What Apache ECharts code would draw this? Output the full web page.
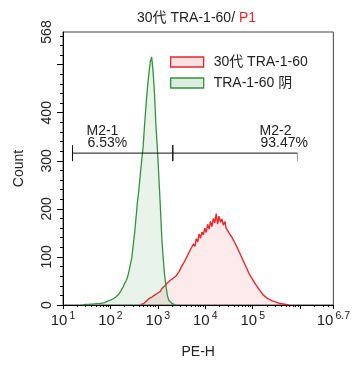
<!DOCTYPE html>
<html><head><meta charset="utf-8">
<script src="https://cdn.jsdelivr.net/npm/echarts@6/dist/echarts.min.js"></script>
<style>html,body{margin:0;padding:0;background:#fff}#c{width:353px;height:367px}</style>
</head><body><div id="c"></div>
<script>
const FONT = '"Liberation Sans", Arial, "Noto Sans CJK SC", sans-serif';

// ---- data ----
const titleMain = '30代 TRA-1-60/ ';
const titleGate = 'P1';
const seriesNames = ['30代 TRA-1-60', 'TRA-1-60 阴'];
const xAxisName = 'PE-H';
const yAxisName = 'Count';
const xMinExp = 1, xMaxExp = 6.7;          // axis in log10 units
const xHiddenLabels = [6];
const yMax = 568;
const yLabelValues = [0, 100, 200, 300, 400, 568];
const yMajorTicks = [0, 100, 200, 300, 400, 500];

const binWidth = 0.03;                      // log10 bin width
const redStart = 2.64;
const redCounts = [1,2,3,5,8,10,14,12,17,16,21,19,25,27,29,35,33,40,41,47,45,52,50,56,54,61,63,70,74,82,
  79,92,96,104,100,116,112,127,122,138,131,148,139,152,146,160,151,168,158,174,163,180,171,190,168,185,172,179,166,174,
  160,163,150,154,141,143,130,131,118,121,105,107,92,94,79,80,66,63,56,52,46,42,37,33,29,27,21,20,16,15,
  12,13,9,10,7,6,5,4,3,3,2,1,1,0,0];
const greenStart = 1.40;
const greenCounts = [0,1,1,2,1,2,2,3,2,3,3,4,3,5,4,6,5,7,8,9,10,12,13,16,17,20,23,28,33,38,
  45,50,58,70,84,98,124,150,182,215,240,272,302,330,375,415,452,480,506,516,485,438,372,325,268,210,145,100,64,40,
  20,10,6,4,2,1,0];

const gateNames = ['M2-1', 'M2-2'];
const gatePercents = ['6.53%', '93.47%'];
const gateFrom = [1.20, 3.315];
const gateTo = [3.315, 5.945];
const gateLevel = 316;

// ---- build ----
const toPairs = (start, counts) => counts.map((c, i) => [+(start + i * binWidth).toFixed(3), c]);
const xMinor = [];
for (let d = 1; d <= 6; d++) for (let k = 2; k <= 9; k++) { const v = d + Math.log10(k); if (v < xMaxExp) xMinor.push(v); }
const yMinor = [];
for (let v = 20; v < yMax; v += 20) if (v % 100 !== 0) yMinor.push(v);

const RED = '#e8262b', GREEN = '#34923f', INK = '#222';

const chart = echarts.init(document.getElementById('c'), null, {renderer: 'canvas'});
chart.setOption({
  animation: false,
  backgroundColor: '#fff',
  textStyle: {fontFamily: FONT},
  title: {
    text: '{a|' + titleMain + '}{b|' + titleGate + '}',
    left: 132, top: 6,
    textStyle: {fontWeight: 'normal', rich: {
      a: {fontSize: 14, color: INK, fontFamily: FONT, fontWeight: 'normal'},
      b: {fontSize: 14, color: RED, fontFamily: FONT, fontWeight: 'normal'}
    }}
  },
  legend: {
    orient: 'vertical', left: 165, top: 49,
    itemWidth: 33, itemHeight: 10, itemGap: 5, selectedMode: false,
    textStyle: {fontSize: 14, color: INK, fontFamily: FONT, lineHeight: 16, padding: [0, 0, 0, 5]},
    data: [
      {name: seriesNames[0], icon: 'rect', itemStyle: {color: '#fbe0e1', borderColor: RED, borderWidth: 1.3}},
      {name: seriesNames[1], icon: 'rect', itemStyle: {color: '#dcede0', borderColor: GREEN, borderWidth: 1.3}}
    ]
  },
  grid: {left: 63, right: 16, top: 32, bottom: 62, show: true, borderColor: '#444', borderWidth: 1, containLabel: false},
  xAxis: [
    {
      type: 'value', min: xMinExp, max: xMaxExp, interval: 1, position: 'bottom',
      name: xAxisName, nameLocation: 'middle', nameGap: 40,
      nameTextStyle: {fontSize: 14, color: INK, fontFamily: FONT},
      axisLine: {show: true, lineStyle: {color: '#000', width: 1}},
      axisTick: {show: true, length: 4, lineStyle: {color: '#000'}},
      axisLabel: {
        margin: 6, color: INK,
        formatter: v => xHiddenLabels.includes(v) ? '' : '{b|10}{s|' + v + '}',
        rich: {
          b: {fontSize: 15, fontFamily: FONT, color: INK},
          s: {fontSize: 10.5, fontFamily: FONT, color: INK, padding: [0, 0, 9, 2]}
        }
      },
      splitLine: {show: false}
    },
    {
      type: 'value', min: xMinExp, max: xMaxExp, position: 'bottom',
      axisLine: {show: false},
      axisTick: {show: true, length: 2, customValues: xMinor, lineStyle: {color: '#000'}},
      axisLabel: {show: false}, splitLine: {show: false}
    }
  ],
  yAxis: [
    {
      type: 'value', min: 0, max: yMax, interval: 100, position: 'left',
      name: yAxisName, nameLocation: 'middle', nameGap: 37,
      nameTextStyle: {fontSize: 14, color: INK, fontFamily: FONT},
      axisLine: {show: true, lineStyle: {color: '#000', width: 1}},
      axisTick: {show: true, length: 6, customValues: yMajorTicks, lineStyle: {color: '#000'}},
      axisLabel: {customValues: yLabelValues, rotate: 90, margin: 9, fontSize: 14, color: INK, fontFamily: FONT},
      splitLine: {show: false}
    },
    {
      type: 'value', min: 0, max: yMax, position: 'left',
      axisLine: {show: false},
      axisTick: {show: true, length: 3, customValues: yMinor, lineStyle: {color: '#000'}},
      axisLabel: {show: false}, splitLine: {show: false}
    }
  ],
  series: [
    {
      type: 'line', name: seriesNames[0], data: toPairs(redStart, redCounts),
      symbol: 'none', lineStyle: {color: RED, width: 1.4}, itemStyle: {color: RED},
      areaStyle: {color: 'rgba(242,120,125,0.22)'}, z: 2
    },
    {
      type: 'line', name: seriesNames[1], data: toPairs(greenStart, greenCounts),
      symbol: 'none', lineStyle: {color: GREEN, width: 1.3}, itemStyle: {color: GREEN},
      areaStyle: {color: 'rgba(70,160,90,0.18)'}, z: 3
    },
    {
      type: 'custom', name: 'gates', z: 10, silent: true,
      data: gateNames.map((n, i) => [gateFrom[i], gateTo[i], gateLevel]),
      renderItem: (params, api) => {
        const i = params.dataIndex;
        const a = api.coord([api.value(0), api.value(2)]);
        const b = api.coord([api.value(1), api.value(2)]);
        const last = i === gateNames.length - 1;
        const lx = i === 0 ? a[0] + 14 : b[0] - 38;
        const txt = {fill: INK, fontSize: 14, fontFamily: FONT, align: 'left', verticalAlign: 'middle'};
        return {type: 'group', children: [
          {type: 'line', shape: {x1: a[0], y1: a[1], x2: b[0], y2: b[1]}, style: {stroke: '#111', lineWidth: 1}},
          {type: 'line', shape: {x1: a[0], y1: a[1] - 8, x2: a[0], y2: a[1] + 8}, style: {stroke: '#111', lineWidth: 1}},
          last
            ? {type: 'line', shape: {x1: b[0], y1: b[1], x2: b[0], y2: b[1] + 8}, style: {stroke: '#999', lineWidth: 1}}
            : {type: 'line', shape: {x1: b[0], y1: b[1] - 8, x2: b[0], y2: b[1] + 8}, style: {stroke: '#111', lineWidth: 1}},
          {type: 'text', x: lx, y: a[1] - 22, style: Object.assign({text: gateNames[i]}, txt)},
          {type: 'text', x: lx, y: a[1] - 9.5, style: Object.assign({text: gatePercents[i],
            backgroundColor: last ? 'rgba(255,255,255,0.6)' : '#fff', padding: [1, 4, 2, 1]}, txt)}
        ]};
      }
    }
  ]
});
</script></body></html>
